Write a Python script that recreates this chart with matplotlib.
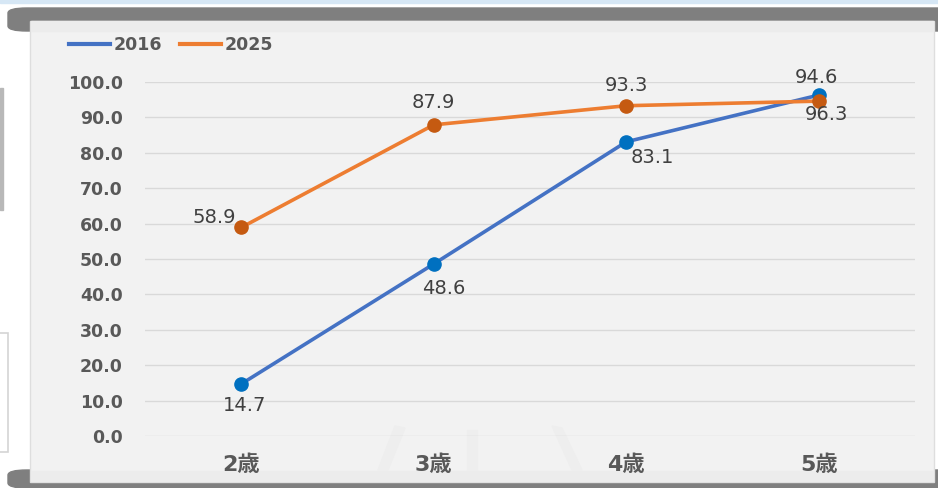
import matplotlib
matplotlib.use("Agg")
import matplotlib.pyplot as plt
from matplotlib.patches import Rectangle, FancyBboxPatch, Polygon

plt.rcParams['font.family'] = ['DejaVu Sans', 'Noto Sans CJK JP']

# data
ages = ['2歳', '3歳', '4歳', '5歳']
years = ['2016', '2025']
rate_2016 = [14.7, 48.6, 83.1, 96.3]
rate_2025 = [58.9, 87.9, 93.3, 94.6]
y_ticks = [0, 10, 20, 30, 40, 50, 60, 70, 80, 90, 100]

W, H = 938, 488
fig = plt.figure(figsize=(W / 100, H / 100), dpi=100, facecolor='white')


def px_rect(x0, y0, x1, y1, **kw):
    # rectangle given in pixel coords (origin top-left)
    return Rectangle((x0 / W, 1 - y1 / H), (x1 - x0) / W, (y1 - y0) / H,
                     transform=fig.transFigure, **kw)


# background decoration
fig.patches.append(px_rect(0, 0, W, 3, color='#d6e7f5', zorder=0))
for y0, y1 in [(8, 31), (470, 488)]:
    fig.patches.append(FancyBboxPatch((8 / W, 1 - y1 / H), (W + 20) / W, (y1 - y0) / H,
                                      boxstyle='round,pad=0,rounding_size=0.02',
                                      mutation_aspect=H / W * 1.0,
                                      transform=fig.transFigure, color='#7f7f7f', zorder=0))
fig.patches.append(px_rect(30, 21, 934, 482, facecolor='#f2f2f2', edgecolor='#dedede', lw=1, zorder=1))
fig.patches.append(px_rect(31, 21, 933, 31, color='#ececec', zorder=1))
fig.patches.append(px_rect(31, 471, 933, 481, color='#ececec', zorder=1))
# left-side artifacts
fig.patches.append(px_rect(0, 88, 2.5, 210, color='#b8b8b8', zorder=1))
fig.patches.append(px_rect(-2, 333, 8, 452, facecolor='none', edgecolor='#d4d4d4', lw=1.2, zorder=1))
# faint watermark strokes
for pts in [[(378, 470), (388, 470), (405, 428), (395, 426)],
            [(467, 470), (477, 470), (477, 430), (467, 430)],
            [(552, 426), (562, 428), (582, 470), (572, 470)]]:
    fig.patches.append(Polygon([(x / W, 1 - y / H) for x, y in pts], closed=True,
                               transform=fig.transFigure, color='#eeeeee', zorder=1))

ax = fig.add_axes([145 / W, 1 - 436 / H, (915 - 145) / W, (436 - 82) / H])
ax.set_facecolor('none')
ax.set_zorder(2)

x = list(range(len(ages)))
l1, = ax.plot(x, rate_2016, color='#4472c4', lw=2.6, marker='o', ms=9.5,
              mfc='#0070c0', mec='#0070c0', clip_on=False, zorder=3, label=years[0])
l2, = ax.plot(x, rate_2025, color='#ed7d31', lw=2.6, marker='o', ms=9.5,
              mfc='#c55a11', mec='#c55a11', clip_on=False, zorder=4, label=years[1])

# label offsets in pixels (dx, dy), dy up is positive
off_2016 = [(3, -22), (10, -25), (26, -16), (8, -19)]
off_2025 = [(-27, 10), (0, 22), (0, 20), (-2, 24)]
for vals, offs in [(rate_2016, off_2016), (rate_2025, off_2025)]:
    for i, (v, (dx, dy)) in enumerate(zip(vals, offs)):
        ax.annotate(f'{v:.1f}', (i, v), xytext=(dx * 0.72, dy * 0.72),
                    textcoords='offset points', ha='center', va='center',
                    fontsize=14, color='#404040', zorder=5)

ax.set_xlim(-0.5, 3.5)
ax.set_ylim(0, 100)
ax.set_yticks(y_ticks)
ax.set_yticklabels([f'{t:.1f}' for t in y_ticks])
ax.set_xticks(x)
ax.set_xticklabels(ages)
ax.grid(axis='y', color='#d9d9d9', lw=1)
ax.set_axisbelow(True)
for s in ax.spines.values():
    s.set_visible(False)
ax.tick_params(axis='both', length=0)
ax.tick_params(axis='y', pad=16, labelsize=12.5, labelcolor='#595959')
ax.tick_params(axis='x', pad=13, labelsize=16, labelcolor='#595959')
for t in ax.get_yticklabels() + ax.get_xticklabels():
    t.set_fontweight('bold')

leg = fig.legend(handles=[l1, l2], labels=years, loc='center left',
                 bbox_to_anchor=(53 / W, 1 - 45 / H), ncol=2, frameon=False,
                 handlelength=2.4, handletextpad=0.2, columnspacing=1.0,
                 prop={'weight': 'bold', 'size': 12.5})
for h in leg.legend_handles:
    h.set_marker('')
    h.set_linewidth(3)
for t in leg.get_texts():
    t.set_color('#595959')

fig.savefig('out.png', dpi=100, facecolor='white')
